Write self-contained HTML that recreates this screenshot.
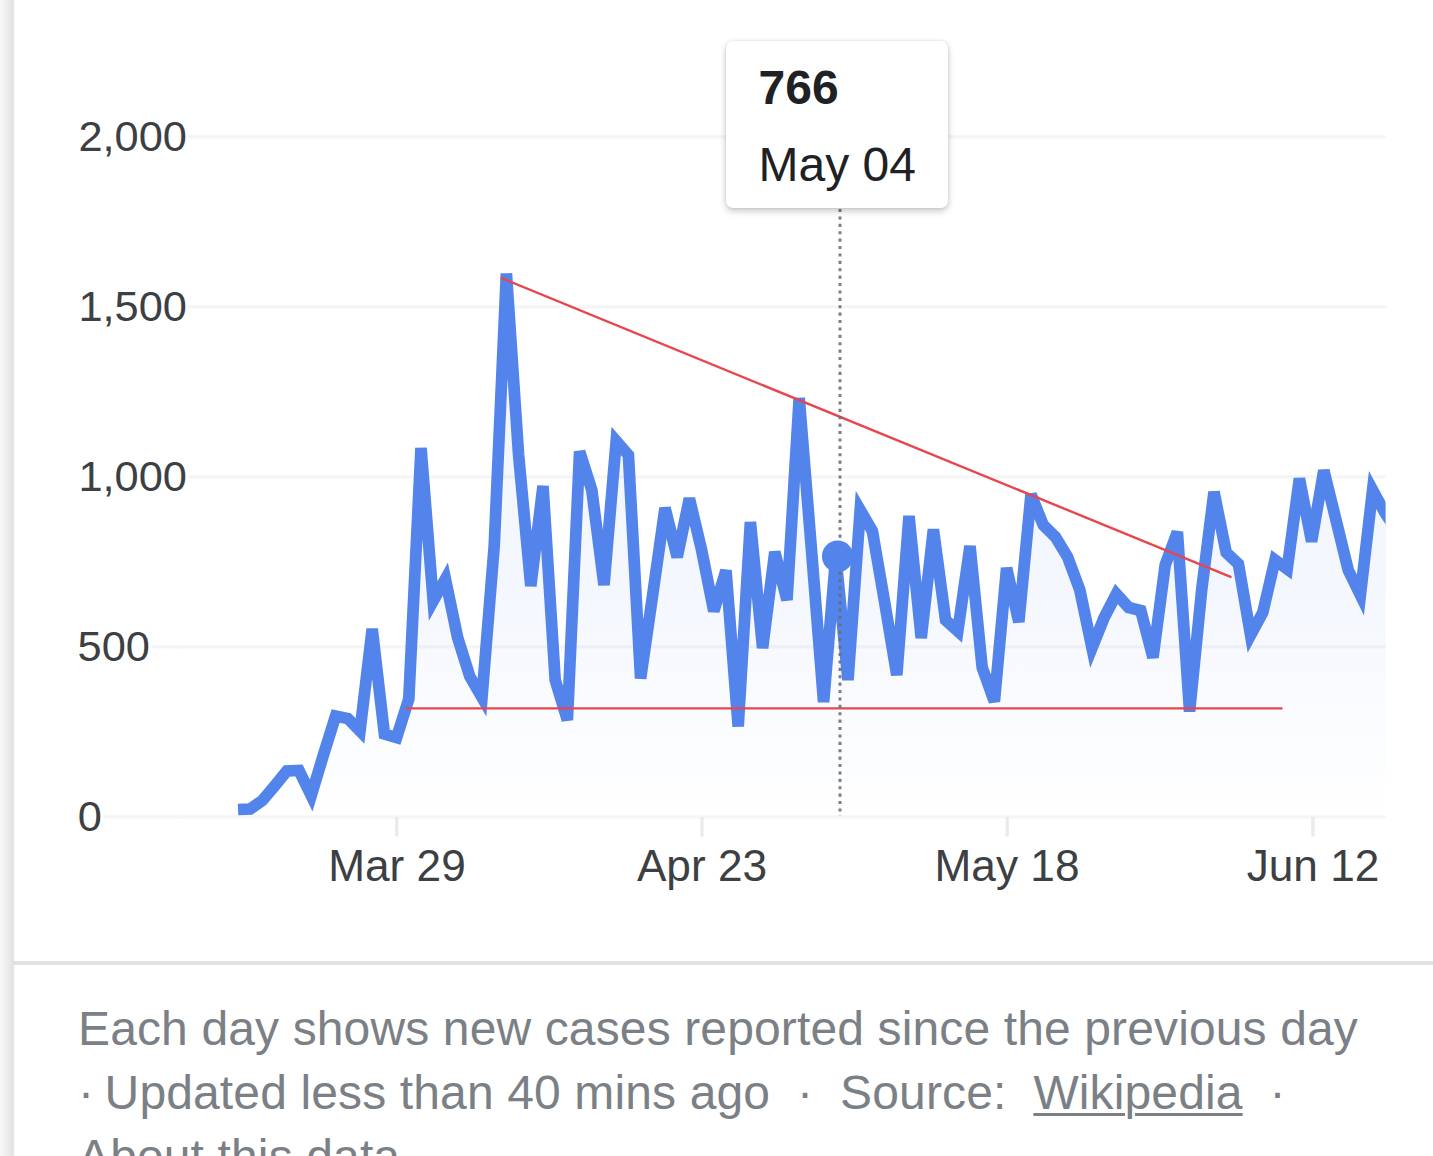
<!DOCTYPE html>
<html><head><meta charset="utf-8">
<style>
html,body{margin:0;padding:0;background:#fff;}
body{width:1433px;height:1156px;position:relative;overflow:hidden;font-family:"Liberation Sans",Arial,sans-serif;}
.edge{position:absolute;left:0;top:0;width:15px;height:1156px;background:linear-gradient(to right,#f8f8f8 0px,#efefef 6px,#e6e6e6 11px,#e1e1e1 13px,#ffffff 15px);}
svg{position:absolute;left:0;top:0;}
.sep{position:absolute;left:12.5px;top:961.3px;width:1421px;height:3.3px;background:#dfe1e5;}
.foot{position:absolute;left:78px;top:996.8px;width:1350px;font-size:48px;line-height:64px;color:#7b8086;white-space:nowrap;letter-spacing:0.13px;}
.foot u{text-decoration-thickness:3px;text-underline-offset:4px;}
.tip{position:absolute;left:726px;top:40.5px;width:222px;height:167.5px;background:#fff;border-radius:7px;box-shadow:0 3px 7px rgba(0,0,0,0.22),0 0 3px rgba(0,0,0,0.10);}
.tip b{position:absolute;left:32.5px;top:21.5px;font-size:48px;line-height:52px;color:#202124;font-weight:bold;}
.tip span{position:absolute;left:32.5px;top:98px;font-size:48px;line-height:52px;color:#202124;white-space:nowrap;}
</style></head><body>
<div class="edge"></div>
<svg width="1433" height="1156" viewBox="0 0 1433 1156">
<defs>
<linearGradient id="ag" x1="0" y1="273" x2="0" y2="816" gradientUnits="userSpaceOnUse">
<stop offset="0" stop-color="#5384eb" stop-opacity="0.075"/>
<stop offset="0.565" stop-color="#5384eb" stop-opacity="0.068"/>
<stop offset="1" stop-color="#5384eb" stop-opacity="0.0"/>
</linearGradient>
<clipPath id="cp"><rect x="180" y="0" width="1205.6" height="900"/></clipPath>
</defs>
<g clip-path="url(#cp)">
<g fill="#f5f5f5">
<rect x="188.2" y="135.2" width="1200" height="3.3"/>
<rect x="188.2" y="305.2" width="1200" height="3.3"/>
<rect x="188.2" y="475.2" width="1200" height="3.3"/>
<rect x="152" y="645.2" width="1240" height="3.3"/>
<rect x="103.5" y="815.2" width="1300" height="3.3"/>
</g>
<path d="M238.0,809.5 L250.2,809.0 L262.4,800.5 L274.6,786.0 L286.8,771.0 L299.0,770.5 L311.2,795.5 L323.4,755.0 L335.6,716.0 L347.8,718.5 L360.0,731.0 L372.2,629.0 L384.4,734.0 L396.6,737.5 L408.8,699.0 L421.0,448.0 L433.2,601.0 L445.4,579.0 L457.6,637.5 L469.8,676.5 L482.0,697.5 L494.2,546.0 L506.4,273.5 L518.6,455.0 L530.8,586.0 L543.0,486.0 L555.2,680.0 L567.4,720.0 L579.6,451.5 L591.8,490.0 L604.0,585.0 L616.2,441.0 L628.4,455.0 L640.6,678.5 L652.8,594.0 L665.0,508.0 L677.2,557.0 L689.4,498.5 L701.6,550.0 L713.8,611.0 L726.0,570.5 L738.2,726.5 L750.4,522.0 L762.6,648.0 L774.8,552.0 L787.0,600.0 L799.2,398.0 L811.4,549.0 L823.6,702.0 L835.8,556.0 L848.0,680.0 L860.2,510.0 L872.4,531.0 L884.6,602.0 L896.8,675.0 L909.0,516.0 L921.2,638.0 L933.4,529.5 L945.6,620.0 L957.8,631.0 L970.0,546.0 L982.2,667.5 L994.4,701.5 L1006.6,568.0 L1018.8,622.0 L1031.0,494.5 L1043.2,525.0 L1055.4,537.0 L1067.6,557.0 L1079.8,590.0 L1092.0,648.0 L1104.2,617.5 L1116.4,594.0 L1128.6,607.5 L1140.8,610.5 L1153.0,657.5 L1165.2,565.0 L1177.4,532.0 L1189.6,711.5 L1201.8,589.0 L1214.0,492.0 L1226.2,552.5 L1238.4,564.0 L1250.6,635.0 L1262.8,612.5 L1275.0,560.0 L1287.2,569.0 L1299.4,478.5 L1311.6,541.5 L1323.8,470.5 L1336.0,520.0 L1348.2,570.0 L1360.4,595.0 L1372.6,490.0 L1384.8,512.5 L1397.0,531.0 L1397.0,816 L238.0,816 Z" fill="url(#ag)"/>
<path d="M238.0,809.5 L250.2,809.0 L262.4,800.5 L274.6,786.0 L286.8,771.0 L299.0,770.5 L311.2,795.5 L323.4,755.0 L335.6,716.0 L347.8,718.5 L360.0,731.0 L372.2,629.0 L384.4,734.0 L396.6,737.5 L408.8,699.0 L421.0,448.0 L433.2,601.0 L445.4,579.0 L457.6,637.5 L469.8,676.5 L482.0,697.5 L494.2,546.0 L506.4,273.5 L518.6,455.0 L530.8,586.0 L543.0,486.0 L555.2,680.0 L567.4,720.0 L579.6,451.5 L591.8,490.0 L604.0,585.0 L616.2,441.0 L628.4,455.0 L640.6,678.5 L652.8,594.0 L665.0,508.0 L677.2,557.0 L689.4,498.5 L701.6,550.0 L713.8,611.0 L726.0,570.5 L738.2,726.5 L750.4,522.0 L762.6,648.0 L774.8,552.0 L787.0,600.0 L799.2,398.0 L811.4,549.0 L823.6,702.0 L835.8,556.0 L848.0,680.0 L860.2,510.0 L872.4,531.0 L884.6,602.0 L896.8,675.0 L909.0,516.0 L921.2,638.0 L933.4,529.5 L945.6,620.0 L957.8,631.0 L970.0,546.0 L982.2,667.5 L994.4,701.5 L1006.6,568.0 L1018.8,622.0 L1031.0,494.5 L1043.2,525.0 L1055.4,537.0 L1067.6,557.0 L1079.8,590.0 L1092.0,648.0 L1104.2,617.5 L1116.4,594.0 L1128.6,607.5 L1140.8,610.5 L1153.0,657.5 L1165.2,565.0 L1177.4,532.0 L1189.6,711.5 L1201.8,589.0 L1214.0,492.0 L1226.2,552.5 L1238.4,564.0 L1250.6,635.0 L1262.8,612.5 L1275.0,560.0 L1287.2,569.0 L1299.4,478.5 L1311.6,541.5 L1323.8,470.5 L1336.0,520.0 L1348.2,570.0 L1360.4,595.0 L1372.6,490.0 L1384.8,512.5 L1397.0,531.0" fill="none" stroke="#5384eb" stroke-width="11.7" stroke-linejoin="miter" stroke-miterlimit="4"/>
</g>
<rect x="103.5" y="815.2" width="80" height="3.3" fill="#f5f5f5"/><rect x="152" y="645.2" width="30" height="3.3" fill="#f5f5f5"/>
<g fill="#eaeaea">
<rect x="395.1" y="817" width="3.3" height="19.5"/>
<rect x="700.3" y="817" width="3.3" height="19.5"/>
<rect x="1005.6" y="817" width="3.3" height="19.5"/>
<rect x="1311.2" y="817" width="3.3" height="19.5"/>
</g>
<line x1="407" y1="708.4" x2="1281.5" y2="708.4" stroke="#e7464f" stroke-width="2.4" stroke-linecap="round"/>
<line x1="501.6" y1="278.2" x2="1230.6" y2="576.8" stroke="#e7464f" stroke-width="2.4" stroke-linecap="round"/>
<line x1="840" y1="209" x2="840" y2="816" stroke="#6a6e73" stroke-opacity="0.9" stroke-width="2.9" stroke-dasharray="3.1 4.3"/>
<circle cx="837.65" cy="556.35" r="15.75" fill="#5384eb"/>
<g font-family="Liberation Sans, Arial, sans-serif" font-size="44.2" fill="#3c4043">
<g font-size="43.4"><text x="187" y="150.6" text-anchor="end">2,000</text>
<text x="187" y="320.6" text-anchor="end">1,500</text>
<text x="187" y="490.6" text-anchor="end">1,000</text>
<text x="150" y="660.6" text-anchor="end">500</text>
<text x="102" y="830.6" text-anchor="end">0</text></g>
<text x="397" y="881" text-anchor="middle">Mar 29</text>
<text x="702" y="881" text-anchor="middle">Apr 23</text>
<text x="1007" y="881" text-anchor="middle">May 18</text>
<text x="1313" y="881" text-anchor="middle">Jun 12</text>
</g>
</svg>
<div class="sep"></div>
<div class="foot">Each day shows new cases reported since the previous day<br><span style="word-spacing:-3px">· </span>Updated less than 40 mins ago&nbsp; ·&nbsp; Source:&nbsp; <u>Wikipedia</u>&nbsp; ·<br>About this data</div>
<div class="tip"><b>766</b><span>May 04</span></div>
</body></html>
